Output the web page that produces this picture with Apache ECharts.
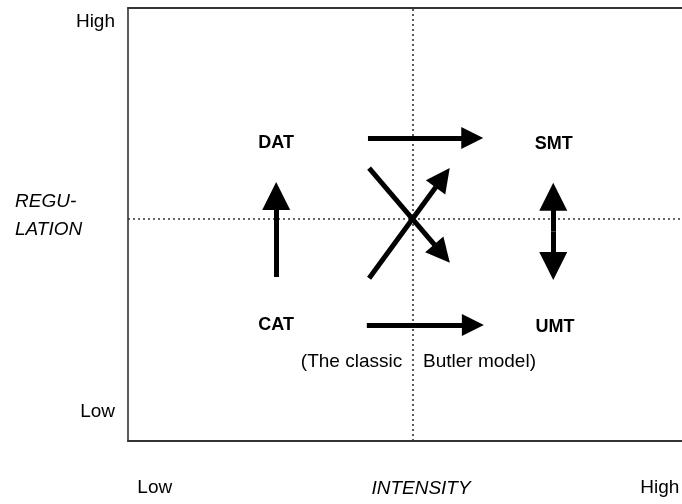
<!DOCTYPE html>
<html>
<head>
<meta charset="utf-8">
<script src="https://cdn.jsdelivr.net/npm/echarts@6/dist/echarts.min.js"></script>
<style>
html,body{margin:0;padding:0;background:#fff;}
#chart{width:682px;height:504px;}
</style>
</head>
<body>
<div id="chart"></div>
<script>
// ---- data (value space 0..100 on both axes) ----
const xTickValues = [4.7, 93.3];
const xTickLabels = ['Low', 'High'];
const yTickValues = [6.7, 96.8];
const yTickLabels = ['Low', 'High'];
const xAxisTitle = 'INTENSITY';
const yAxisTitleLines = ['REGU-', 'LATION'];

const quadrantNames = ['DAT', 'SMT', 'CAT', 'UMT'];
const quadrantX = [26.0, 74.7, 26.0, 74.9];
const quadrantY = [68.8, 68.5, 26.8, 26.4];

const captionTexts = ['(The classic', 'Butler model)'];
const captionX = [48.1, 51.75];
const captionY = [18.4, 18.4];

const dividerX = 50;
const dividerY = 51.3;

// arrows: [start, head]
const horizontalArrows = [
  [[42.1, 70.0], [60.4, 70.0]],
  [[41.9, 26.8], [60.5, 26.8]]
];
const verticalArrows = [
  [[26.0, 37.9], [26.0, 56.6]]
];
const diagonalArrows = [
  [[42.3, 63.0], [55.1, 43.3]],
  [[42.3, 37.6], [55.2, 60.8]]
];
const doubleArrows = [
  [[74.6, 48.4], [74.6, 56.4]]
];
const doubleArrowsBack = [
  [[74.6, 48.4], [74.6, 40.4]]
];

const FONT = "'Liberation Sans', Arial, Helvetica, sans-serif";
const INK = '#000';

function pick(values, labels) {
  return function (v) {
    let best = 0, d = Infinity;
    values.forEach((x, i) => { const dd = Math.abs(x - v); if (dd < d) { d = dd; best = i; } });
    return labels[best];
  };
}

const chart = echarts.init(document.getElementById('chart'), null, {renderer: 'canvas'});

function arrowSeries(data, size, symbols) {
  return {
    type: 'lines',
    coordinateSystem: 'cartesian2d',
    silent: true,
    symbol: symbols || ['none', 'triangle'],
    symbolSize: size,
    lineStyle: {color: '#000', width: 5, opacity: 1, curveness: 0},
    data: data.map(c => ({coords: c})),
    z: 5
  };
}

const option = {
  animation: false,
  backgroundColor: '#fff',
  grid: {left: 128, right: -16, top: 8, bottom: 63, containLabel: false, outerBoundsMode: 'none'},
  xAxis: [{
    type: 'value', min: 0, max: 100, position: 'bottom',
    name: xAxisTitle, nameLocation: 'middle', nameGap: 38, nameMoveOverlap: false,
    nameTextStyle: {fontFamily: FONT, fontSize: 19, fontStyle: 'italic', color: INK, padding: [0, 0, 0, 16]},
    axisLine: {show: true, onZero: false, lineStyle: {color: '#333', width: 2}},
    axisTick: {show: false},
    splitLine: {show: false},
    axisLabel: {
      show: true, customValues: xTickValues, margin: 37,
      formatter: pick(xTickValues, xTickLabels),
      fontFamily: FONT, fontSize: 19, color: INK
    }
  }, {
    type: 'value', min: 0, max: 100, position: 'top',
    axisLine: {show: true, onZero: false, lineStyle: {color: '#333', width: 2}},
    axisTick: {show: false}, axisLabel: {show: false}, splitLine: {show: false}
  }],
  yAxis: {
    type: 'value', min: 0, max: 100,
    name: yAxisTitleLines.join('\n') + '\n{g| }', nameLocation: 'middle', nameRotate: 0, nameGap: 113, nameMoveOverlap: false,
    nameTextStyle: {
      fontFamily: FONT, fontSize: 19, fontStyle: 'italic', color: INK, align: 'left', lineHeight: 28,
      rich: {g: {fontSize: 10, lineHeight: 17}}
    },
    axisLine: {show: true, onZero: false, lineStyle: {color: '#333', width: 1.6}},
    axisTick: {show: false},
    splitLine: {show: false},
    axisLabel: {
      show: true, customValues: yTickValues, margin: 13,
      formatter: pick(yTickValues, yTickLabels),
      fontFamily: FONT, fontSize: 19, color: INK
    }
  },
  series: [
    {
      type: 'scatter',
      symbolSize: 0,
      silent: true,
      itemStyle: {opacity: 1},
      data: quadrantNames.map((n, i) => ({name: n, value: [quadrantX[i], quadrantY[i]]})),
      label: {show: true, position: 'inside', formatter: '{b}', fontFamily: FONT, fontSize: 18, fontWeight: 'bold', color: INK, opacity: 1},
      markLine: {
        silent: true, symbol: 'none', animation: false,
        label: {show: false},
        lineStyle: {type: [2, 3], color: '#333', width: 1.6, opacity: 1},
        data: [{xAxis: dividerX}, {yAxis: dividerY}]
      },
      z: 3
    },
    {
      type: 'scatter',
      symbolSize: 0,
      silent: true,
      itemStyle: {opacity: 1},
      data: captionTexts.map((t, i) => ({
        name: t, value: [captionX[i], captionY[i]],
        label: {position: i === 0 ? 'left' : 'right'}
      })),
      label: {show: true, distance: 0, formatter: '{b}', fontFamily: FONT, fontSize: 19, color: INK, opacity: 1},
      z: 3
    },
    arrowSeries(horizontalArrows, [28, 22]),
    arrowSeries(verticalArrows, [22, 28]),
    arrowSeries(diagonalArrows, [25, 24]),
    arrowSeries(doubleArrows, [22, 28]),
    arrowSeries(doubleArrowsBack, [22, 28])
  ]
};
chart.setOption(option);
</script>
</body>
</html>
